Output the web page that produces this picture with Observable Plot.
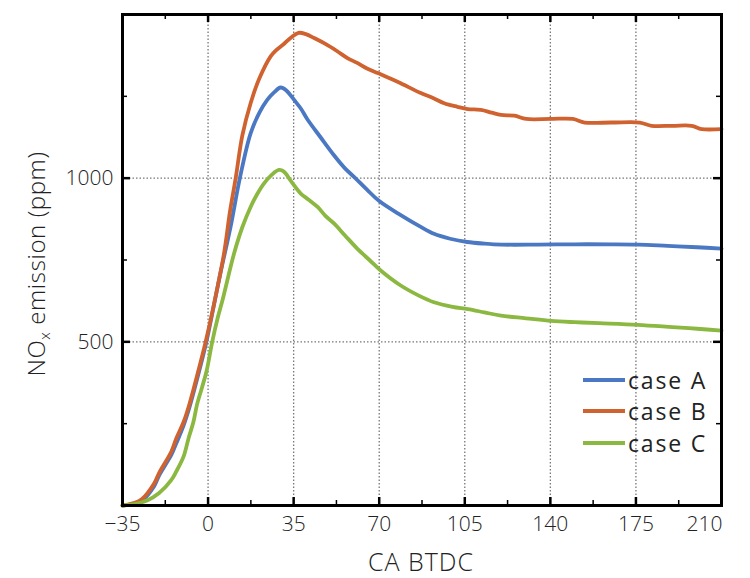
<!DOCTYPE html>
<html>
<head>
<meta charset="utf-8">
<script src="https://cdn.jsdelivr.net/npm/d3@7"></script>
<script src="https://cdn.jsdelivr.net/npm/@observablehq/plot@0.6"></script>
<style>
  html, body { margin: 0; padding: 0; background: #fff; }
  #wrap { position: relative; width: 750px; height: 578px; font-family: "Open Sans", sans-serif; }
  #legend { position: absolute; left: 583px; top: 364px; font-size: 23px; font-weight: 400; letter-spacing: 1.8px; color: #222; }
  #legend .row { display: flex; align-items: center; height: 31.5px; }
  #legend .sw { width: 42px; height: 4px; margin-right: 3px; }
</style>
</head>
<body>
<div id="wrap"></div>
<script>
// ---- data ----
const caseA_x = [-35, -30, -27, -22, -20, -15, -13, -10, -8, -4, -1, 1, 5, 9.2, 13, 17.4, 21, 24.2, 27, 29.7, 32, 35.2, 38, 40.6, 46, 51.5, 56, 59.7, 65, 70, 78.8, 87, 92.4, 99, 106, 113, 120, 135, 150, 165, 176, 188, 200, 210];
const caseA_y = [0, 5, 15, 60, 92, 155, 190, 245, 290, 400, 490, 560, 708, 851, 1000, 1137, 1200, 1239, 1262, 1277, 1268, 1239, 1212, 1180, 1125, 1070, 1030, 1004, 965, 930, 887, 851, 830, 815, 805, 800, 797, 797, 798, 798, 797, 793, 789, 785];

const caseB_x = [-35, -30, -27, -22, -20, -15, -13, -10, -8, -4, -1, 2, 6.5, 9, 11.3, 14, 17.4, 21, 25.6, 28, 31, 34, 37, 40, 43.4, 48, 53, 57, 61, 65, 69.4, 75, 78.8, 87, 92, 96.6, 102, 106.2, 111.6, 116, 119.8, 125.3, 130.1, 140, 149.2, 154, 165, 176.6, 181.4, 190, 197.8, 201.9, 210];
const caseB_y = [0, 8, 20, 68, 100, 165, 205, 255, 300, 411, 500, 600, 769, 900, 1000, 1130, 1229, 1305, 1372, 1392, 1410, 1430, 1444, 1440, 1428, 1410, 1387, 1367, 1352, 1335, 1321, 1303, 1290, 1260, 1245, 1229, 1218, 1211, 1209, 1200, 1193, 1191, 1181, 1181, 1181, 1170, 1170, 1170, 1160, 1160, 1160, 1150, 1150];

const caseC_x = [-35, -30, -25, -20, -15, -13, -10, -8, -6, -4.5, -2.5, -0.6, 1.7, 4, 6, 10.6, 14, 17.4, 20, 22.9, 26, 29, 31, 34, 37.9, 41, 44.8, 48, 51.6, 56, 61, 66, 70.6, 78.8, 86, 92.4, 100, 106.2, 113, 119.8, 130, 140.3, 150, 160, 175.7, 190, 200, 210];
const caseC_y = [0, 4, 15, 38, 78, 104, 150, 205, 255, 309, 360, 411, 500, 575, 630, 769, 850, 912, 950, 984, 1010, 1025, 1020, 990, 953, 935, 912, 885, 861, 825, 785, 750, 718, 672, 642, 621, 607, 600, 590, 580, 572, 564, 560, 557, 552, 545, 540, 534];

const seriesNames = ["case A", "case B", "case C"];
const seriesColors = ["#4a78c2", "#d0622f", "#8bb840"];

const xMajor = [-35, 0, 35, 70, 105, 140, 175, 210];
const xLabelsMid = [-35, 0, 35, 70, 105, 140, 175];
const xLabelsEnd = [210];
const xMinor = [-17.5, 17.5, 52.5, 87.5, 122.5, 157.5, 192.5];
const xGrid = [0, 35, 70, 105, 140, 175];
const yMajor = [0, 500, 1000, 1500];
const yMinor = [250, 750, 1250];
const yLabels = [500, 1000];

const xDomain = [-35, 210];
const yDomain = [0, 1500];

// ---- build table ----
const rows = [];
[[caseA_x, caseA_y], [caseB_x, caseB_y], [caseC_x, caseC_y]].forEach(([xs, ys], i) => {
  xs.forEach((x, j) => rows.push({series: seriesNames[i], x, y: ys[j]}));
});

// tick lengths expressed as fractions of the domain spans
const xSpan = xDomain[1] - xDomain[0], ySpan = yDomain[1] - yDomain[0];
const majLenY = ySpan * 8 / 491, minLenY = ySpan * 5 / 491;
const majLenX = xSpan * 8 / 599, minLenX = xSpan * 5 / 599;

const labelStyle = {tickSize: 0, fontSize: 21, fontWeight: 300, label: null, fill: "#222"};

const chart = Plot.plot({
  width: 750,
  height: 578,
  marginLeft: 122,
  marginRight: 29,
  marginTop: 14,
  marginBottom: 73,
  style: {fontFamily: "Open Sans, sans-serif", fontSize: "20px", color: "#222", background: "#fff"},
  x: {domain: xDomain},
  y: {domain: yDomain},
  color: {domain: seriesNames, range: seriesColors},
  marks: [
    Plot.ruleX(xGrid, {stroke: "#777", strokeWidth: 1.3, strokeDasharray: "1.5,2"}),
    Plot.ruleY(yLabels, {stroke: "#777", strokeWidth: 1.3, strokeDasharray: "1.5,2"}),
    Plot.line(rows, {x: "x", y: "y", z: "series", stroke: "series", strokeWidth: 3.8, curve: "catmull-rom"}),
    // tick labels
    Plot.axisX(xLabelsMid, {anchor: "bottom", tickPadding: 11, ...labelStyle}),
    Plot.axisX(xLabelsEnd, {anchor: "bottom", tickPadding: 11, textAnchor: "end", dx: 1, ...labelStyle}),
    Plot.axisY(yLabels, {anchor: "left", tickPadding: 9, tickFormat: d => String(d), ...labelStyle}),
    // inward ticks (bottom/top)
    Plot.ruleX(xMajor, {y1: yDomain[0], y2: yDomain[0] + majLenY, stroke: "#000", strokeWidth: 2.5}),
    Plot.ruleX(xMajor, {y1: yDomain[1], y2: yDomain[1] - majLenY, stroke: "#000", strokeWidth: 2.5}),
    Plot.ruleX(xMinor, {y1: yDomain[0], y2: yDomain[0] + minLenY, stroke: "#000", strokeWidth: 1.5}),
    Plot.ruleX(xMinor, {y1: yDomain[1], y2: yDomain[1] - minLenY, stroke: "#000", strokeWidth: 1.5}),
    // inward ticks (left/right)
    Plot.ruleY(yMajor, {x1: xDomain[0], x2: xDomain[0] + majLenX, stroke: "#000", strokeWidth: 2.5}),
    Plot.ruleY(yMajor, {x1: xDomain[1], x2: xDomain[1] - majLenX, stroke: "#000", strokeWidth: 2.5}),
    Plot.ruleY(yMinor, {x1: xDomain[0], x2: xDomain[0] + minLenX, stroke: "#000", strokeWidth: 1.5}),
    Plot.ruleY(yMinor, {x1: xDomain[1], x2: xDomain[1] - minLenX, stroke: "#000", strokeWidth: 1.5}),
    Plot.frame({stroke: "#000", strokeWidth: 3})
  ]
});

const wrap = document.getElementById("wrap");
wrap.appendChild(chart);

// axis titles
const svg = d3.select(chart);
svg.append("text")
  .attr("x", 421).attr("y", 571)
  .attr("text-anchor", "middle")
  .attr("font-size", 25).attr("font-weight", 300).attr("letter-spacing", 1).attr("fill", "#222")
  .text("CA BTDC");

const yt = svg.append("text")
  .attr("transform", "translate(45,264) rotate(-90)")
  .attr("text-anchor", "middle")
  .attr("font-size", 24).attr("font-weight", 300).attr("letter-spacing", 0.6).attr("fill", "#222");
yt.append("tspan").text("NO");
yt.append("tspan").attr("font-size", 15).attr("dy", 5).text("x");
yt.append("tspan").attr("dy", -5).text(" emission (ppm)");

// legend
const lg = document.createElement("div");
lg.id = "legend";
seriesNames.forEach((name, i) => {
  const r = document.createElement("div");
  r.className = "row";
  const sw = document.createElement("div");
  sw.className = "sw";
  sw.style.background = seriesColors[i];
  const t = document.createElement("span");
  t.textContent = name;
  r.appendChild(sw); r.appendChild(t);
  lg.appendChild(r);
});
wrap.appendChild(lg);
</script>
</body>
</html>
